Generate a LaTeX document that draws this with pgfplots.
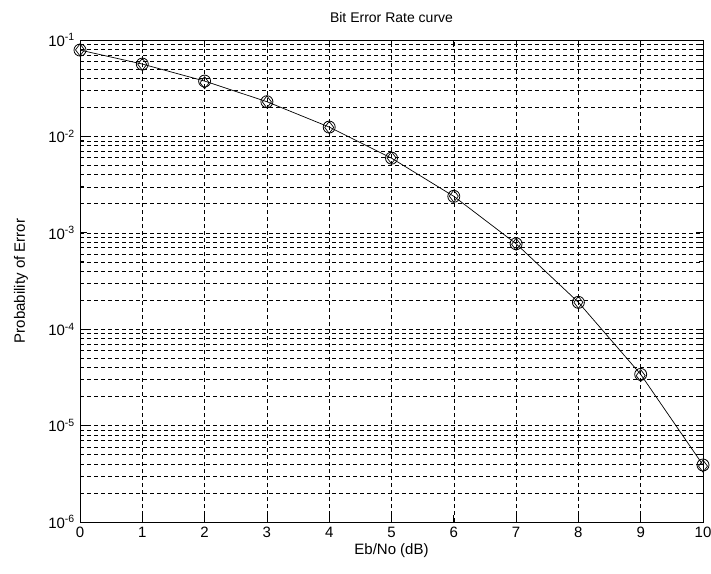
\documentclass[border=0pt]{standalone}
\usepackage{pgfplots}
\pgfplotsset{compat=1.18}
\usepackage{fontspec}
\setmainfont{Liberation Sans}
\begin{document}
\fontsize{15}{18}\selectfont
\begin{tikzpicture}
\useasboundingbox (-80pt,-51pt) rectangle (631pt,522pt);
\begin{axis}[
  scale only axis,
  width=623pt, height=482pt,
  at={(0,0)}, anchor=south west,
  ymode=log,
  xmin=0, xmax=10, ymin=1e-6, ymax=1e-1,
  xtick={0,1,...,10},
  ytick={1e-6,1e-5,1e-4,1e-3,1e-2,1e-1},
  yticklabels={10\textsuperscript{-6},10\textsuperscript{-5},10\textsuperscript{-4},10\textsuperscript{-3},10\textsuperscript{-2},10\textsuperscript{-1}},
  /pgf/number format/assume math mode=true,
  tick label style={font=\fontsize{15}{18}\selectfont},
  label style={font=\fontsize{15}{18}\selectfont},
  title style={font=\fontsize{14}{17}\selectfont, yshift=6pt},
  title={Bit Error Rate curve},
  xlabel={Eb/No (dB)},
  ylabel={Probability of Error},
  xlabel style={yshift=4pt},
  ylabel style={yshift=10pt},
  grid=both,
  major grid style={black, line width=0.6pt, dash pattern=on 4pt off 3pt},
  minor grid style={black, line width=0.6pt, dash pattern=on 4pt off 3pt},
  tick align=inside,
  major tick length=7pt,
  minor tick length=4pt,
  tick style={black, line width=0.8pt},
  axis line style={black, line width=1pt},
  minor x tick num=0,
]
\addplot[black, line width=0.7pt, mark=o, mark size=6pt, mark options={line width=0.8pt}] coordinates {
(0,0.0786) (1,0.0563) (2,0.0375) (3,0.0229) (4,0.0125) (5,0.00595) (6,0.00239) (7,0.00077) (8,0.00019) (9,3.4e-5) (10,3.9e-6)
};
\addplot[black, only marks, mark=diamond, mark size=6pt, mark options={line width=0.7pt}] coordinates {
(0,0.0790) (1,0.0560) (2,0.0360) (3,0.0228) (4,0.0124) (5,0.00600) (6,0.00240) (7,0.00076) (8,0.00019) (9,3.3e-5) (10,3.8e-6)
};
\end{axis}
\end{tikzpicture}
\end{document}
